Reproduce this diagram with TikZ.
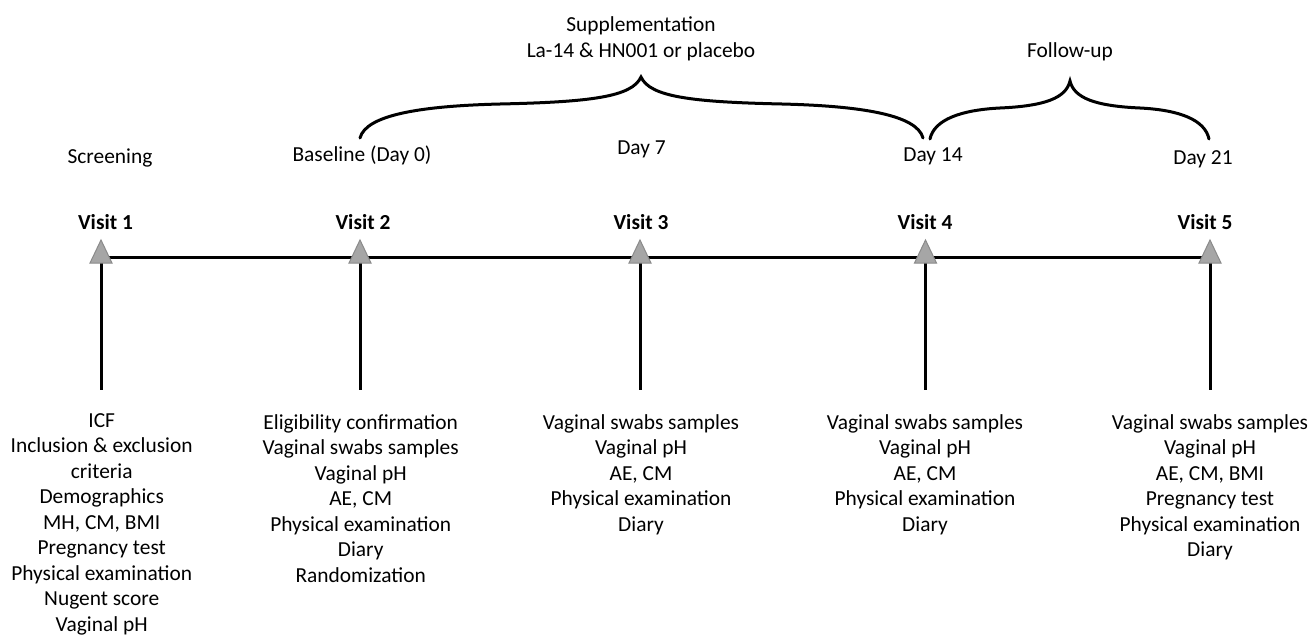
\documentclass[tikz,border=0pt]{standalone}
\usepackage{fontspec}
\setmainfont{Carlito}
\definecolor{triFill}{HTML}{A6A6A6}
\definecolor{triDraw}{HTML}{8A8A8A}
\begin{document}
\begin{tikzpicture}[x=1pt,y=-1pt,
  txt/.style={font=\fontsize{21.4}{25.5}\selectfont, inner sep=0pt, anchor=base},
  vis/.style={txt, font=\fontsize{21.4}{25.5}\selectfont\bfseries},
  blk/.style={font=\fontsize{21.4}{25.5}\selectfont, inner sep=0pt, anchor=north, align=center},
  axisline/.style={line width=3pt},
  brc/.style={line width=3pt, line cap=round},
  tri/.style={fill=triFill, draw=triDraw, line width=1pt, line join=miter}]
\useasboundingbox (0,0) rectangle (1310,637);

% visit points on the timeline
\coordinate (v1) at (101,257);
\coordinate (v2) at (360,257);
\coordinate (v3) at (640,257);
\coordinate (v4) at (925.5,257);
\coordinate (v5) at (1210,257);
\coordinate (b1) at (101,390);
\coordinate (b2) at (360,390);
\coordinate (b3) at (640,390);
\coordinate (b4) at (925.5,390);
\coordinate (b5) at (1210,390);

\draw[axisline] (v1) -- (v5);
\foreach \i in {1,...,5}{
  \draw[axisline] (v\i) -- (b\i);
}
\foreach \i in {1,...,5}{
  \filldraw[tri] (v\i) ++(-11,6) -- ++(11,-23) -- ++(11,23) -- cycle;
}

% visit labels
\node[vis] (l1) at (105.5,229.5) {Visit 1};
\node[vis] (l2) at (363,229.5) {Visit 2};
\node[vis] (l3) at (641,229.5) {Visit 3};
\node[vis] (l4) at (925,229.5) {Visit 4};
\node[vis] (l5) at (1205,229.5) {Visit 5};

% day labels
\node[txt] (d1) at (110,163) {Screening};
\node[txt] (d2) at (362,161) {Baseline (Day 0)};
\node[txt] (d3) at (641.5,154) {Day 7};
\node[txt] (d4) at (933,161) {Day 14};
\node[txt] (d5) at (1203,164) {Day 21};

% braces
\draw[brc] (360,138) .. controls (366,115) and (420,106) .. (500,104)
  .. controls (590,102) and (632,97) .. (641,77)
  .. controls (650,97) and (692,102) .. (782,104)
  .. controls (862,106) and (917,115) .. (923,138);
\draw[brc] (930,139) .. controls (934,120) and (960,110) .. (1000,108)
  .. controls (1045,106) and (1066,98) .. (1070,81)
  .. controls (1074,98) and (1095,106) .. (1140,108)
  .. controls (1180,110) and (1205,120) .. (1209,139);

\node[txt] (sup1) at (641,31) {Supplementation};
\node[txt] (sup2) at (641,57) {La-14 \& HN001 or placebo};
\node[txt] (fu) at (1070,57) {Follow-up};

% procedure blocks
\node[blk] (p1) at (101.7,413) {ICF\\Inclusion \& exclusion\\criteria\\Demographics\\MH, CM, BMI\\Pregnancy test\\Physical examination\\Nugent score\\Vaginal pH};
\node[blk] (p2) at (360.7,414) {Eligibility confirmation\\Vaginal swabs samples\\Vaginal pH\\AE, CM\\Physical examination\\Diary\\Randomization};
\node[blk] (p3) at (641,414) {Vaginal swabs samples\\Vaginal pH\\AE, CM\\Physical examination\\Diary};
\node[blk] (p4) at (925,414) {Vaginal swabs samples\\Vaginal pH\\AE, CM\\Physical examination\\Diary};
\node[blk] (p5) at (1210,414) {Vaginal swabs samples\\Vaginal pH\\AE, CM, BMI\\Pregnancy test\\Physical examination\\Diary};
\end{tikzpicture}
\end{document}
